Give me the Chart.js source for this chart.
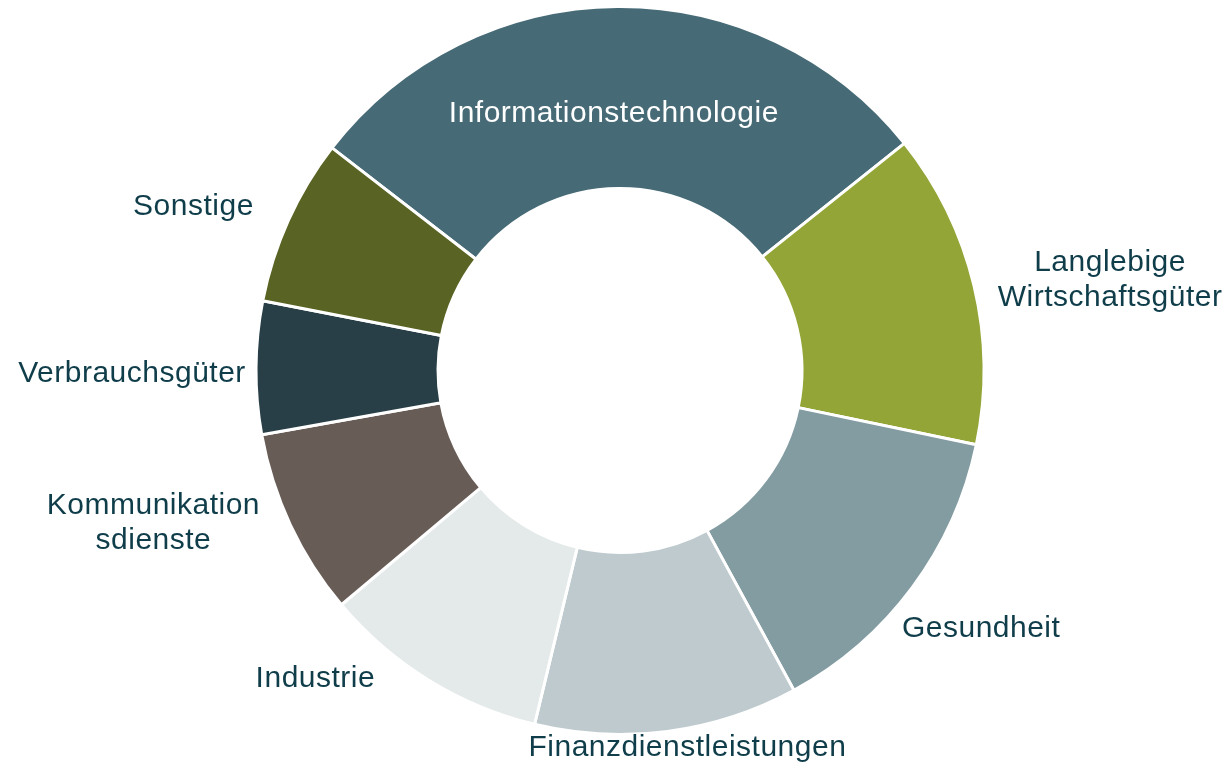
<!DOCTYPE html>
<html>
<head>
<meta charset="utf-8">
<script src="https://cdn.jsdelivr.net/npm/chart.js@4/dist/chart.umd.min.js"></script>
<style>
  html, body { margin: 0; padding: 0; background: #ffffff; }
  #wrap { width: 1228px; height: 763px; position: relative; }
</style>
</head>
<body>
<div id="wrap"><canvas id="c" width="1228" height="763"></canvas></div>
<script>
// ---- data ----
const categories = [
  "Informationstechnologie",
  "Langlebige\nWirtschaftsgüter",
  "Gesundheit",
  "Finanzdienstleistungen",
  "Industrie",
  "Kommunikation\nsdienste",
  "Verbrauchsgüter",
  "Sonstige"
];
const weights = [28.8, 14.0, 13.8, 11.7, 10.1, 8.3, 5.9, 7.4];

// ---- styles ----
const sliceColors = ["#466A76", "#93A537", "#839CA2", "#BECACE", "#E4E9EA", "#685C57", "#283F47", "#596323"];
const labelColors = ["#FFFFFF", "#0F3D4A", "#0F3D4A", "#0F3D4A", "#0F3D4A", "#0F3D4A", "#0F3D4A", "#0F3D4A"];
// label placement: anchor 'mid' = middle of ring, 'outer' = outer edge; offsets in px
const labelPlacement = [
  { anchor: "mid",   dx: -4,   dy: 16 },
  { anchor: "outer", dx: 136,  dy: -6 },
  { anchor: "outer", dx: 69,   dy: 41 },
  { anchor: "outer", dx: 20,   dy: 16 },
  { anchor: "outer", dx: -113, dy: -1 },
  { anchor: "outer", dx: -137, dy: -2 },
  { anchor: "outer", dx: -124, dy: 6 },
  { anchor: "outer", dx: -95,  dy: -14 }
];

const labelPlugin = {
  id: "sliceLabels",
  afterDatasetsDraw(chart) {
    const ctx = chart.ctx;
    const meta = chart.getDatasetMeta(0);
    ctx.save();
    ctx.font = "30px 'Liberation Sans', Arial, sans-serif";
    try { ctx.letterSpacing = "0.5px"; } catch (e) {}
    ctx.textAlign = "center";
    ctx.textBaseline = "middle";
    meta.data.forEach((arc, i) => {
      const p = arc.getProps(["x", "y", "startAngle", "endAngle", "innerRadius", "outerRadius"], true);
      const mid = (p.startAngle + p.endAngle) / 2;
      const pl = labelPlacement[i];
      const r = pl.anchor === "mid" ? (p.innerRadius + p.outerRadius) / 2 : p.outerRadius;
      const cx = p.x + Math.cos(mid) * r + pl.dx;
      const cy = p.y + Math.sin(mid) * r + pl.dy;
      const lines = categories[i].split("\n");
      const lh = 35;
      ctx.fillStyle = labelColors[i];
      lines.forEach((ln, k) => {
        ctx.fillText(ln, cx, cy + (k - (lines.length - 1) / 2) * lh);
      });
    });
    ctx.restore();
  }
};

new Chart(document.getElementById("c"), {
  type: "doughnut",
  data: {
    labels: categories,
    datasets: [{
      data: weights,
      backgroundColor: sliceColors,
      borderColor: "#FFFFFF",
      borderWidth: 3
    }]
  },
  options: {
    responsive: false,
    animation: false,
    cutout: "50%",
    rotation: -52.3,
    layout: { padding: { top: 5, bottom: 27, left: 12, right: 0 } },
    plugins: {
      legend: { display: false },
      tooltip: { enabled: false },
      title: { display: false }
    }
  },
  plugins: [labelPlugin]
});
</script>
</body>
</html>
